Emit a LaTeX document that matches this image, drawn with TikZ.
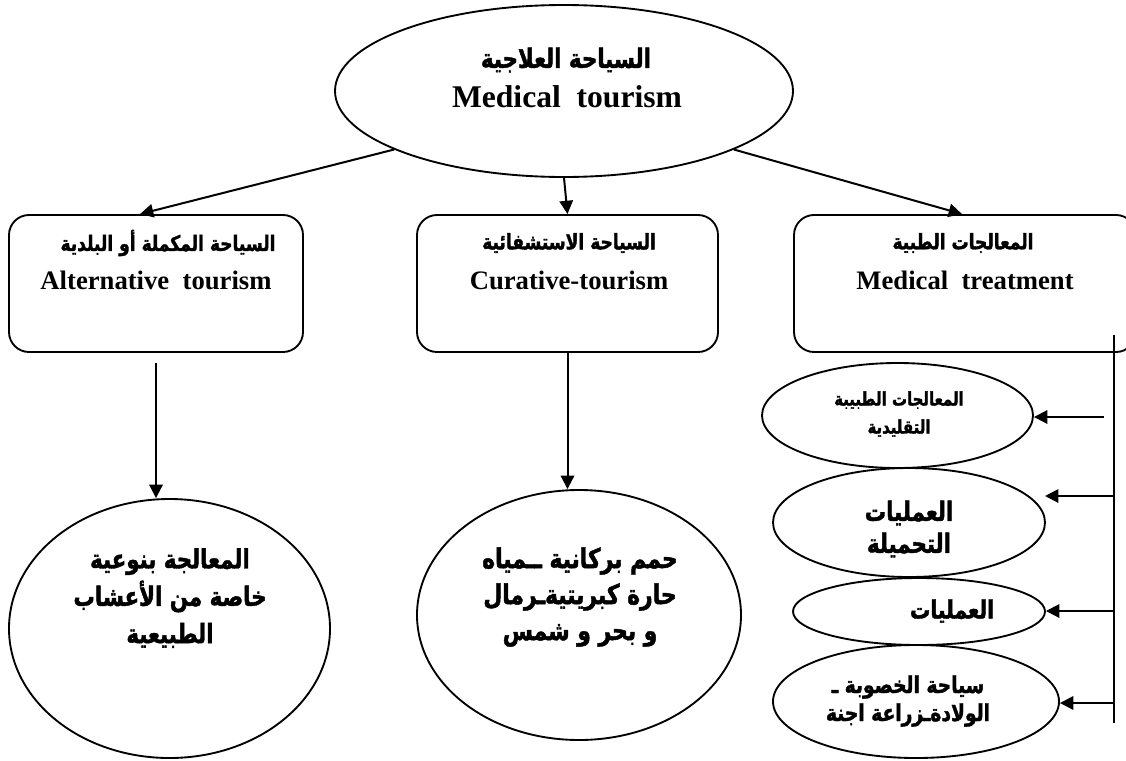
\documentclass[tikz,border=0pt]{standalone}
\usepackage{fontspec}
\setmainfont{Liberation Serif}
\newfontfamily\arabicfont[Script=Arabic,FakeStretch=0.8,FakeBold=1.6]{DejaVu Sans Bold}
\TeXXeTstate=1
\usetikzlibrary{shapes.geometric,arrows.meta,calc}
\newcommand{\artext}[1]{{\arabicfont\beginR #1\endR}}
\begin{document}
\begin{tikzpicture}[x=0.75pt,y=-0.75pt,
  line width=1.5pt,
  oval/.style={draw,ellipse,inner sep=0pt,line width=1.4pt},
  roundbox/.style={draw,rectangle,rounded corners=15pt,inner sep=0pt,line width=1.4pt},
  arr/.style={-{Triangle[length=10pt,width=10pt]},line width=1.5pt},
  entext/.style={font=\bfseries,inner sep=0pt},
  artxt/.style={inner sep=0pt,align=center}]
\useasboundingbox (0,0) rectangle (1126,760);

% top-level ellipse
\node[oval,minimum width=458*0.75pt,minimum height=172*0.75pt] (top) at (564,91) {};
\node[artxt,font=\fontsize{20}{22}\selectfont] (topar) at (566,60) {\artext{السياحة العلاجية}};
\node[entext,font=\fontsize{23.7}{26}\selectfont\bfseries] (topen) at (567,97) {Medical\ \ tourism};

% three category boxes
\node[roundbox,minimum width=294*0.75pt,minimum height=137*0.75pt] (lbox) at (156,283.5) {};
\node[roundbox,minimum width=301*0.75pt,minimum height=137*0.75pt] (mbox) at (567.5,283.5) {};
\node[roundbox,minimum width=342*0.75pt,minimum height=137*0.75pt] (rbox) at (965,283.5) {};

\node[artxt,font=\fontsize{16}{18}\selectfont] (lboxar) at (168,243) {\artext{السياحة المكملة أو البلدية}};
\node[entext,font=\fontsize{20}{22}\selectfont\bfseries] (lboxen) at (156,280) {Alternative\ \ tourism};
\node[artxt,font=\fontsize{16}{18}\selectfont] (mboxar) at (569,243) {\artext{السياحة الاستشفائية}};
\node[entext,font=\fontsize{20}{22}\selectfont\bfseries] (mboxen) at (569,280) {Curative-tourism};
\node[artxt,font=\fontsize{16}{18}\selectfont] (rboxar) at (963,243) {\artext{المعالجات الطبية}};
\node[entext,font=\fontsize{20}{22}\selectfont\bfseries] (rboxen) at (965,280) {Medical\ \ treatment};

% arrows from the top ellipse
\draw[arr] (top.199) -- ($(lbox.north)+(-16,0)$);
\draw[arr] (top.south) -- (mbox.north);
\draw[arr] (top.-19) -- ($(rbox.north)+(-3,0)$);

% large circles under the left and middle boxes
\node[oval,minimum width=321*0.75pt,minimum height=259*0.75pt] (lcirc) at (169.5,628.5) {};
\node[oval,minimum width=324*0.75pt,minimum height=250*0.75pt] (mcirc) at (579,615) {};

\node[artxt,font=\fontsize{20}{28}\selectfont] (lcirctext) at (170,598)
  {\artext{المعالجة بنوعية}\\\artext{خاصة من الأعشاب}\\\artext{الطبيعية}};
\node[artxt,font=\fontsize{20.5}{27}\selectfont] (mcirctext) at (580,597)
  {\artext{حمم بركانية ــمياه}\\\artext{حارة كبريتيةـرمال}\\\artext{و بحر و شمس}};

\draw[arr,shorten <=10*0.75pt] (lbox.south) -- (lbox.south |- lcirc.north);
\draw[arr] (mbox.south) -- (mbox.south |- mcirc.north);

% medical treatment branch: vertical rail with four ellipses
\coordinate (railtop) at (1114,335);
\coordinate (railbot) at (1114,723);
\draw[line width=1.4pt] (railtop) -- (railbot);

\node[oval,minimum width=271*0.75pt,minimum height=105*0.75pt] (e1) at (897.5,415.5) {};
\node[oval,minimum width=272*0.75pt,minimum height=109*0.75pt] (e2) at (909,522.5) {};
\node[oval,minimum width=252*0.75pt,minimum height=67*0.75pt] (e3) at (919,611.5) {};
\node[oval,minimum width=286*0.75pt,minimum height=113*0.75pt] (e4) at (916,701.5) {};

\node[artxt,font=\fontsize{14}{21}\selectfont] (e1text) at (899,414)
  {\artext{المعالجات الطبيبة}\\\artext{التقليدية}};
\node[artxt,font=\fontsize{20}{24}\selectfont] (e2text) at (909,529)
  {\artext{العمليات}\\\artext{التحميلة}};
\node[artxt,font=\fontsize{19}{22}\selectfont] (e3text) at (952,611) {\artext{العمليات}};
\node[artxt,font=\fontsize{17.5}{21}\selectfont] (e4text) at (908,701)
  {\artext{سياحة الخصوبة ـ}\\\artext{الولادةـزراعة اجنة}};

\coordinate (s1) at (1104,417);
\coordinate (s2) at (1114,496);
\coordinate (s3) at (1114,611);
\coordinate (s4) at (1114,703);
\draw[arr] (s1) -- (s1 -| e1.east);
\draw[arr] (s2) -- (1045,496);
\draw[arr] (s3) -- (s3 -| e3.east);
\draw[arr] (s4) -- (s4 -| e4.east);
\end{tikzpicture}
\end{document}
